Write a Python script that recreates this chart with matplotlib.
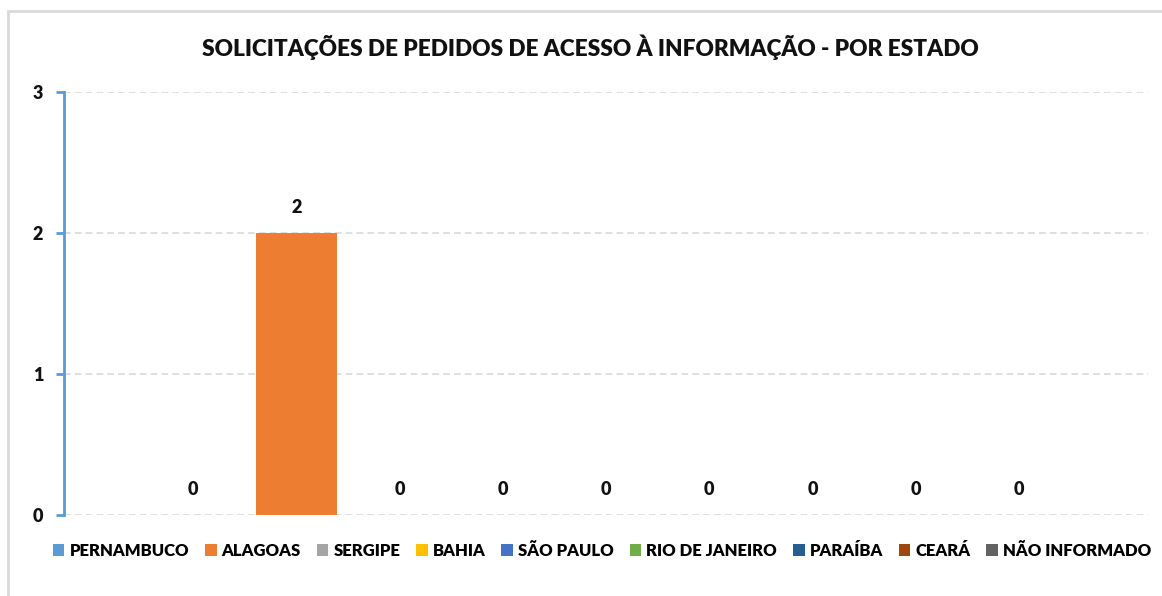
import matplotlib.pyplot as plt
from matplotlib.patches import Rectangle, Patch
import numpy as np

plt.rcParams['font.family'] = ['Lato', 'DejaVu Sans']
plt.rcParams['font.weight'] = 'bold'

estados = ['PERNAMBUCO', 'ALAGOAS', 'SERGIPE', 'BAHIA', 'SÃO PAULO',
           'RIO DE JANEIRO', 'PARAÍBA', 'CEARÁ', 'NÃO INFORMADO']
pedidos = [0, 2, 0, 0, 0, 0, 0, 0, 0]
cores = ['#5B9BD5', '#ED7D31', '#A5A5A5', '#FFC000', '#4472C4',
         '#70AD47', '#255E91', '#9E480E', '#636363']
titulo = 'SOLICITAÇÕES DE PEDIDOS DE ACESSO À INFORMAÇÃO - POR ESTADO'

W, H = 1162, 596
fig = plt.figure(figsize=(W / 100, H / 100), dpi=100)
fig.patch.set_facecolor('white')

# chart border (light gray, cut by the image edges right/bottom)
fig.patches.append(Rectangle((8 / W, -0.05), 1.2, 1 - 11 / H + 0.05,
                             transform=fig.transFigure, fill=False,
                             edgecolor='#D9D9D9', linewidth=2))

ax = fig.add_axes([64 / W, 1 - 515 / H, (1148 - 64) / W, (515 - 92) / H])
x = np.arange(len(estados))
bars = ax.bar(x, pedidos, width=0.78, color=cores, zorder=3)

for xi, v in zip(x, pedidos):
    ax.annotate(str(v), (xi, v), xytext=(0, 12), textcoords='offset points',
                ha='center', va='bottom', fontsize=13, fontweight='heavy',
                color='#111111')

ax.set_xlim(-1.25, 9.25)
ax.set_ylim(0, 3)
ax.set_yticks([0, 1, 2, 3])
ax.set_xticks([])
ax.yaxis.grid(True, linestyle=(0, (4, 2.5)), color='#D9D9D9', linewidth=1.2)
ax.set_axisbelow(True)
for s in ['top', 'right', 'bottom']:
    ax.spines[s].set_visible(False)
ax.spines['left'].set_color('#5B9BD5')
ax.spines['left'].set_linewidth(2)
ax.tick_params(axis='y', colors='#5B9BD5', length=6, width=2, pad=9,
               labelcolor='#111111', labelsize=13)
for lbl in ax.get_yticklabels():
    lbl.set_fontweight('heavy')

fig.text(590 / W, 1 - 47 / H, titulo, ha='center', va='center', fontsize=16.3,
         fontweight='heavy', color='#111111')

handles = [Patch(facecolor=c, edgecolor='none') for c in cores]
fig.legend(handles, estados, loc='center', bbox_to_anchor=(602 / W, 1 - 551 / H),
           ncol=9, frameon=False,
           prop={'weight': 'heavy', 'size': 12}, handlelength=0.7,
           handleheight=0.7, handletextpad=0.3, columnspacing=0.95,
           borderaxespad=0)

fig.savefig('out.png', dpi=100)
